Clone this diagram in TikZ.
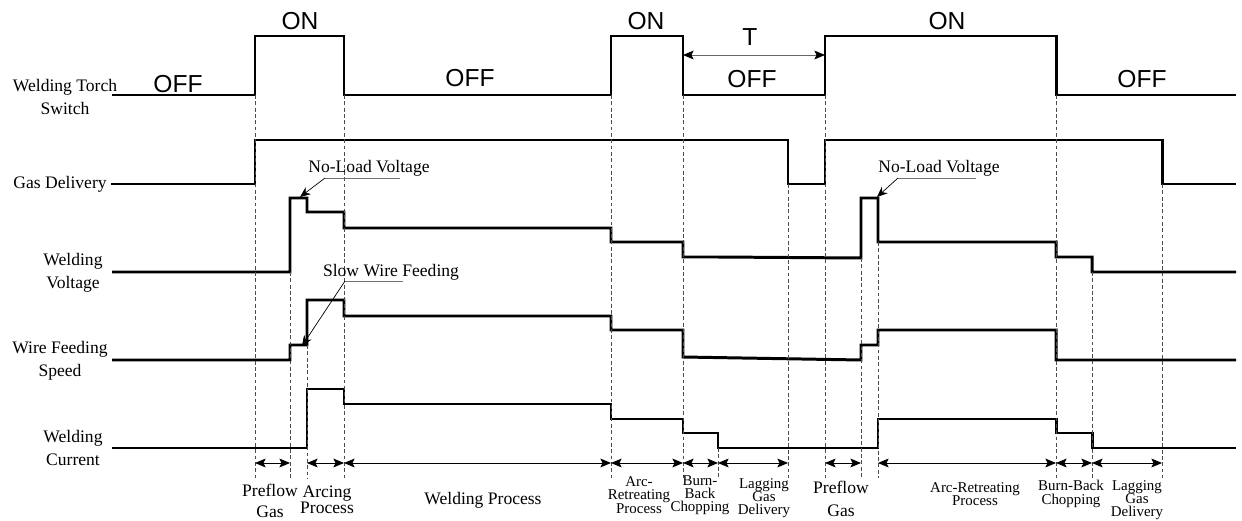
\documentclass[tikz,border=0pt]{standalone}
\usepackage{fontspec}
\setmainfont{Liberation Serif}
\newfontfamily\arialfont{Liberation Sans}
\usepackage{tikz}
\usetikzlibrary{positioning,arrows.meta}

\begin{document}
\begin{tikzpicture}[
x=0.02cm, y=-0.02cm,
every node/.style={inner sep=0pt, align=center},
wave/.style={line width=1.7pt, line join=miter},
guide/.style={black!70, line width=0.5pt, dash pattern=on 2.2pt off 1.4pt},
dim/.style={{Stealth[length=6pt,width=5pt,inset=1.2pt]}-{Stealth[length=6pt,width=5pt,inset=1.2pt]}, line width=0.5pt},
pointer/.style={-{Stealth[length=6pt,width=5pt]}, line width=0.4pt},
underline/.style={black!55, line width=0.5pt},
state/.style={font=\arialfont\fontsize{14}{16}\selectfont},
signame/.style={font=\fontsize{10}{13}\selectfont},
phase/.style={font=\fontsize{10}{9}\selectfont},
phasesmall/.style={font=\fontsize{8.5}{7.5}\selectfont},
note/.style={font=\fontsize{10}{12}\selectfont}
]
\useasboundingbox (0,0) rectangle (1242,521);

\node[signame] (torch) at (65,97) {Welding Torch\\Switch};
\node[signame, anchor=east] (gas) at (107,184) {Gas Delivery};
\node[signame] (volt) at (73,273) {Welding\\Voltage};
\node[signame] (wire) at (60,361) {Wire Feeding\\Speed};
\node[signame] (curr) at (73,448) {Welding\\Current};

\draw[wave] (112,95) -- (255,95) -- (255,36) -- (344,36) -- (344,95) -- (611,95) -- (611,36) -- (683,36) -- (683,95)
  -- (825,95) -- (825,36) -- (1056,36) -- (1056,95) -- (1236,95);
\draw[wave] (gas.east) ++(2pt,0) -- (255,184) -- (255,140) -- (788,140) -- (788,184) -- (825,184) -- (825,140)
  -- (1162,140) -- (1162,184) -- (1236,184);
\draw[wave] (112,272) -- (290,272) -- (290,198) -- (307,198) -- (307,212) -- (344,212) -- (344,228) -- (611,228)
  -- (611,242) -- (683,242) -- (683,257) -- (718,257) -- (861,258) -- (861,198) -- (878,198) -- (878,242)
  -- (1056,242) -- (1056,257) -- (1092,257) -- (1092,272) -- (1236,272);
\draw[wave] (112,360) -- (290,360) -- (290,345) -- (307,345) -- (307,300) -- (344,300) -- (344,316) -- (611,316)
  -- (611,330) -- (683,330) -- (683,357) -- (861,360) -- (861,345) -- (878,345) -- (878,330) -- (1056,330)
  -- (1056,360) -- (1236,360);
\draw[wave] (112,448) -- (307,448) -- (307,389) -- (344,389) -- (344,404) -- (611,404) -- (611,419) -- (683,419)
  -- (683,433) -- (718,433) -- (718,448) -- (878,448) -- (878,419) -- (1056,419) -- (1056,433) -- (1092,433)
  -- (1092,448) -- (1236,448);

\draw[guide] (255,95) -- (255,478);
\draw[guide] (290,272) -- (290,478);
\draw[guide] (307,345) -- (307,478);
\draw[guide] (344,95) -- (344,478);
\draw[guide] (611,95) -- (611,478);
\draw[guide] (683,95) -- (683,478);
\draw[guide] (718,448) -- (718,478);
\draw[guide] (788,184) -- (788,478);
\draw[guide] (825,95) -- (825,478);
\draw[guide] (861,258) -- (861,478);
\draw[guide] (878,242) -- (878,478);
\draw[guide] (1056,95) -- (1056,478);
\draw[guide] (1092,272) -- (1092,478);
\draw[guide] (1162,184) -- (1162,478);

\coordinate (t1) at (255,463);
\coordinate (t2) at (290,463);
\coordinate (t3) at (307,463);
\coordinate (t4) at (344,463);
\coordinate (t5) at (611,463);
\coordinate (t6) at (683,463);
\coordinate (t7) at (718,463);
\coordinate (t8) at (788,463);
\coordinate (t9) at (825,463);
\coordinate (t10) at (861,463);
\coordinate (t11) at (878,463);
\coordinate (t12) at (1056,463);
\coordinate (t13) at (1092,463);
\coordinate (t14) at (1162,463);

\draw[dim] (t1) -- (t2);
\draw[dim] (t3) -- (t4);
\draw[dim] (t4) -- (t5);
\draw[dim] (t5) -- (t6);
\draw[dim] (t6) -- (t7);
\draw[dim] (t7) -- (t8);
\draw[dim] (t9) -- (t10);
\draw[dim] (t11) -- (t12);
\draw[dim] (t12) -- (t13);
\draw[dim] (t13) -- (t14);

\node[state] (offa) at (178,84) {OFF};
\node[state] (ona) at (300,21) {ON};
\node[state] (offb) at (470,78) {OFF};
\node[state] (onb) at (646,21) {ON};
\node[state] (offc) at (752,79) {OFF};
\node[state] (onc) at (947,21) {ON};
\node[state] (offd) at (1142,79) {OFF};

\coordinate (tleft) at (683,55);
\coordinate (tright) at (825,55);
\draw[dim, black!60, {Stealth[length=6pt,width=5pt,inset=1.2pt,black]}-{Stealth[length=6pt,width=5pt,inset=1.2pt,black]}] (tleft) -- (tright);
\coordinate (tmid) at (750,55);
\node[state] (tlbl) [above=5pt of tmid] {T};

\node[phase] (preflowa) at (270,501) {Preflow\\[3pt]Gas};
\node[phase] (arcing) at (327,500) {Arcing\\Process};
\node[phase] (welding) at (483,500) {Welding Process};
\node[phasesmall] (retreata) at (639,495) {Arc-\\Retreating\\Process};
\node[phasesmall] (burna) at (700,495) {Burn-\\Back\\Chopping};
\node[phasesmall] (lagga) at (764,498) {Lagging\\Gas\\Delivery};
\node[phase] (preflowb) at (841,499) {Preflow\\[4pt]Gas};
\node[phasesmall] (retreatb) at (975,494) {Arc-Retreating\\Process};
\node[phasesmall] (burnb) at (1071,494) {Burn-Back\\Chopping};
\node[phasesmall] (laggb) at (1137,500) {Lagging\\Gas\\Delivery};

\node[note] (noloada) at (369,168) {No-Load Voltage};
\coordinate (uloada) at (325,178);
\coordinate (peaka) at (300,197);
\draw[underline] (uloada) -- (400,178);
\draw[pointer] (uloada) -- (peaka);

\node[note] (noloadb) at (939,168) {No-Load Voltage};
\coordinate (uloadb) at (898,178);
\coordinate (peakb) at (877,197);
\draw[underline] (uloadb) -- (976,178);
\draw[pointer] (uloadb) -- (peakb);

\node[note] (slowwire) at (391,272) {Slow Wire Feeding};
\coordinate (uslow) at (345,281);
\coordinate (slowstep) at (302,346);
\draw[underline] (uslow) -- (403,281);
\draw[pointer] (uslow) -- (slowstep);

\end{tikzpicture}
\end{document}
